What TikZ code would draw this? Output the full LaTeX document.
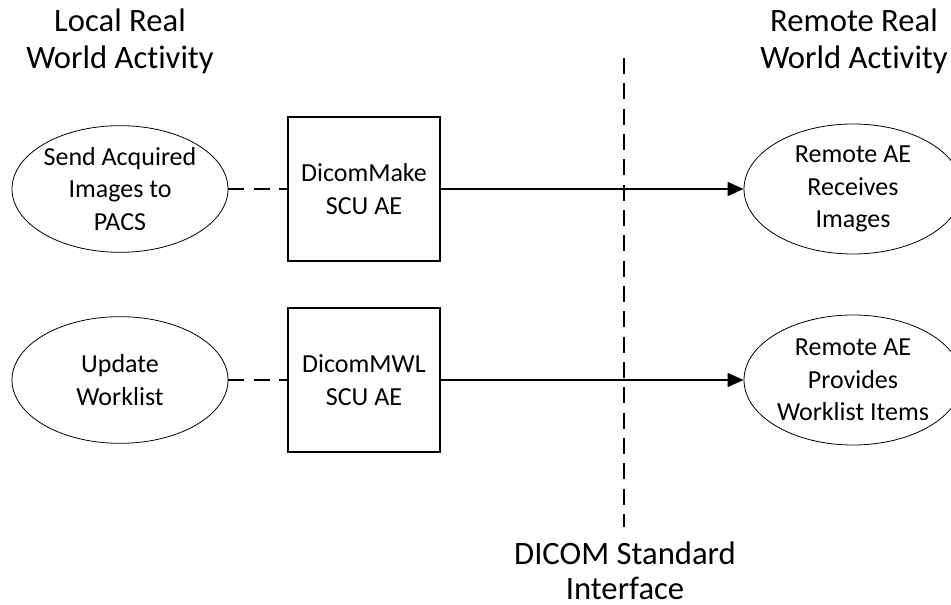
\documentclass[tikz,border=0pt]{standalone}
\usepackage{fontspec}
\setmainfont{Carlito}[Ligatures=NoCommon]
\usetikzlibrary{shapes.geometric,arrows.meta,positioning}

\tikzset{
  activity/.style={draw, ellipse, line width=0.6pt, minimum width=162pt,
    minimum height=95pt, inner sep=0pt, align=center,
    font=\fontsize{19.5}{24.3}\selectfont},
  entity/.style={draw, rectangle, line width=1pt, minimum width=114pt,
    minimum height=108pt, align=center, font=\fontsize{19.5}{24.3}\selectfont},
  heading/.style={align=center, inner sep=0pt, font=\fontsize{24.5}{28}\selectfont},
  link/.style={line width=1pt, dash pattern=on 12pt off 7pt},
  msg/.style={line width=1pt, -{Triangle[length=12pt,width=10.5pt]}}
}

\begin{document}
\begin{tikzpicture}[x=0.75pt,y=-0.75pt]
			\useasboundingbox (0,0) rectangle (951,605);
			\clip (0,0) rectangle (951,605);

			% headings
			\node[heading] (localhdr) at (120,41) {Local Real\\World Activity};
			\node[heading] (remotehdr) at (854,41) {Remote Real\\World Activity};

			% local side
			\node[activity] (sendimg) at (120,189) {Send Acquired\\Images to\\PACS};
			\node[activity] (updwl) at (120,380) {Update\\Worklist};
			\node[entity] (makeae) at (364,189) {DicomMake\\SCU AE};
			\node[entity] (mwlae) at (364,380) {DicomMWL\\SCU AE};

			% remote side
			\node[activity, minimum width=163.5pt, minimum height=97.5pt] (rcvimg) at (853,189) {Remote AE\\Receives\\Images};
			\node[activity, minimum width=163.5pt, minimum height=97.5pt] (provwl) at (853,380) {Remote AE\\Provides\\Worklist Items};

			% interface line
			\coordinate (ifTop) at (624,58);
			\coordinate (ifBot) at (624,527);
			\node[heading, font=\fontsize{24.5}{26}\selectfont] (iflabel) at (625,571) {DICOM Standard\\Interface};

			\draw[link] (sendimg) -- (makeae);
			\draw[link] (updwl) -- (mwlae);
			\draw[msg] (makeae) -- (rcvimg);
			\draw[msg] (mwlae) -- (provwl);
			\draw[link] (ifTop) -- (ifBot);
		\end{tikzpicture}
\end{document}
